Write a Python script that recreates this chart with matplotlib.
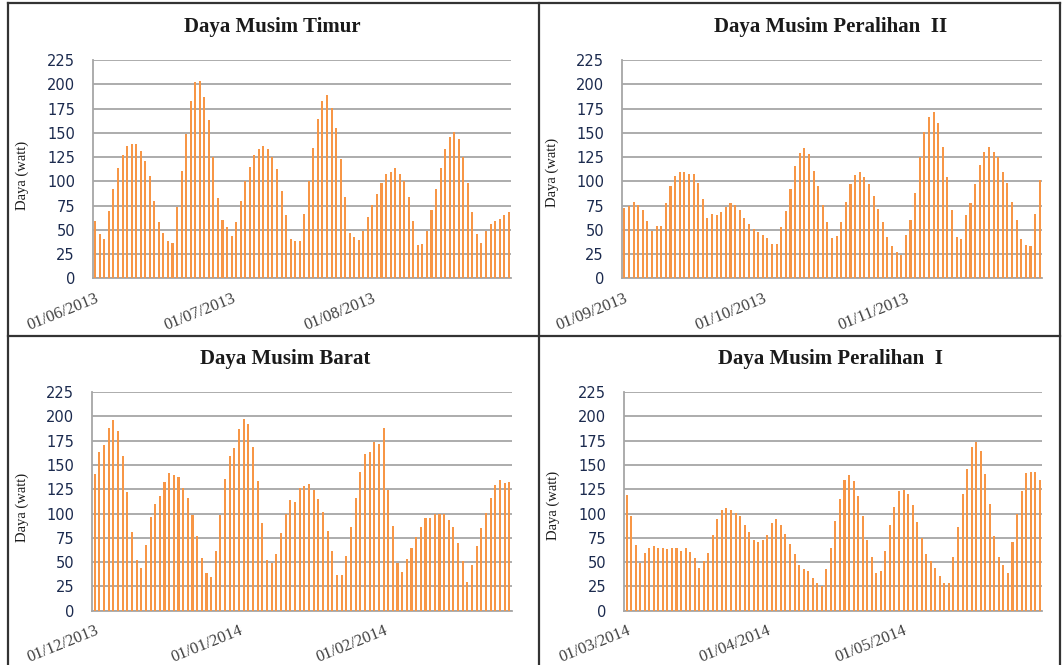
import matplotlib
matplotlib.use("Agg")
import matplotlib.pyplot as plt
from matplotlib.lines import Line2D
from matplotlib.transforms import ScaledTranslation
import numpy as np

# ---------------- data ----------------
timur = [59, 46, 41, 69, 92, 114, 127, 136, 138, 138, 131, 121, 105, 80, 58, 47, 38, 36, 74, 111,
         149, 183, 202, 203, 187, 163, 125, 83, 60, 53, 44, 58, 80, 100, 115, 127, 133, 136, 133, 125,
         113, 90, 65, 41, 38, 38, 66, 100, 134, 164, 183, 189, 176, 155, 123, 84, 47, 43, 39, 49,
         63, 76, 87, 98, 107, 110, 114, 108, 100, 84, 59, 34, 35, 49, 70, 92, 114, 133, 146, 151,
         144, 125, 98, 68, 46, 36, 49, 56, 59, 61, 65, 68]
peralihan2 = [72, 75, 79, 76, 70, 59, 49, 54, 54, 78, 95, 105, 110, 110, 108, 107, 98, 82, 62, 66,
              65, 68, 74, 78, 76, 70, 62, 56, 51, 48, 45, 42, 35, 35, 53, 69, 92, 116, 129, 134,
              128, 111, 95, 76, 58, 42, 44, 58, 79, 97, 106, 110, 104, 97, 85, 71, 58, 43, 33, 27,
              24, 45, 60, 88, 125, 151, 166, 171, 160, 135, 104, 70, 43, 40, 65, 78, 97, 117, 130, 135,
              130, 125, 110, 98, 79, 60, 40, 34, 33, 66, 101]
barat = [141, 163, 170, 188, 196, 185, 159, 122, 81, 52, 44, 68, 96, 110, 118, 132, 142, 140, 138, 126,
         116, 98, 77, 54, 39, 35, 61, 98, 136, 159, 167, 187, 197, 192, 168, 133, 90, 52, 49, 58,
         80, 100, 114, 112, 126, 128, 130, 124, 115, 102, 82, 61, 37, 37, 56, 86, 116, 143, 161, 163,
         174, 171, 188, 124, 87, 49, 40, 53, 64, 76, 86, 95, 95, 100, 100, 100, 93, 86, 70, 51,
         30, 47, 67, 85, 101, 116, 129, 134, 131, 132]
peralihan1 = [119, 97, 68, 49, 59, 64, 67, 65, 64, 63, 64, 65, 61, 64, 60, 54, 44, 51, 59, 78,
              94, 104, 106, 104, 101, 97, 88, 81, 73, 71, 73, 78, 90, 94, 88, 79, 69, 58, 47, 43,
              41, 34, 28, 25, 43, 64, 92, 115, 134, 140, 133, 118, 97, 73, 55, 39, 41, 61, 88, 107,
              123, 124, 120, 109, 91, 75, 58, 51, 44, 36, 28, 28, 55, 86, 120, 146, 168, 174, 164, 141,
              110, 77, 55, 47, 39, 71, 100, 123, 142, 143, 143, 134]

titles = ["Daya Musim Timur", "Daya Musim Peralihan  II", "Daya Musim Barat", "Daya Musim Peralihan  I"]
series = [timur, peralihan2, barat, peralihan1]
tick_idx = [[0, 30, 61], [0, 30, 61], [0, 31, 62], [0, 31, 61]]
tick_lbl = [["01/06/2013", "01/07/2013", "01/08/2013"],
            ["01/09/2013", "01/10/2013", "01/11/2013"],
            ["01/12/2013", "01/01/2014", "01/02/2014"],
            ["01/03/2014", "01/04/2014", "01/05/2014"]]
y_ticks = [0, 25, 50, 75, 100, 125, 150, 175, 200, 225]
ylabel = "Daya (watt)"

# ---------------- layout (pixels) ----------------
W, H = 1063, 665
fig = plt.figure(figsize=(W / 100, H / 100), dpi=100)
fig.patch.set_facecolor("white")

def fx(x):
    return x / W

def fy(y):
    return 1 - y / H

# (left, right, top, bottom) of each plot area, title center, ylabel x
boxes = [(93, 511, 60, 278.3), (622, 1042, 60, 278.3), (92.3, 511.7, 392, 610.7), (624.3, 1042, 392, 610.7)]
title_pos = [(272, 27), (831, 27), (285, 359), (830, 359)]
ylab_pos = [(22, 175), (552, 172), (22, 507), (553, 505)]

serif = ["Liberation Serif", "DejaVu Serif"]
bar_color = "#F79646"
grid_color = "#A6A6A6"

for k in range(4):
    l, r, t, b = boxes[k]
    ax = fig.add_axes([fx(l), fy(b), fx(r) - fx(l), fy(t) - fy(b)])
    vals = series[k]
    n = len(vals)
    ax.bar(np.arange(n), vals, width=0.45, color=bar_color, edgecolor="none", zorder=3)
    ax.set_xlim(-0.5, n - 0.5)
    ax.set_ylim(0, 225)
    ax.set_yticks(y_ticks)
    ax.set_yticklabels([str(v) for v in y_ticks], fontsize=10.5, color="#1B2A4E",
                       family=["DejaVu Sans"])
    ax.tick_params(axis="y", length=0, pad=13)
    ax.set_xticks([])
    ax.yaxis.grid(True, color=grid_color, linewidth=1.3, zorder=0)
    ax.set_axisbelow(True)
    for s in ["top", "right"]:
        ax.spines[s].set_visible(False)
    ax.spines["left"].set_color(grid_color)
    ax.spines["bottom"].set_color(grid_color)
    ax.spines["left"].set_linewidth(1.3)
    ax.spines["bottom"].set_linewidth(1.3)
    ax.patch.set_alpha(0)

    # date labels
    trans = ax.get_xaxis_transform() + ScaledTranslation(0 / 100, -12 / 100, fig.dpi_scale_trans)
    for i, lab in zip(tick_idx[k], tick_lbl[k]):
        ax.text(i, 0, lab, transform=trans, rotation=22, rotation_mode="anchor",
                ha="right", va="top", fontsize=12, color="#404040", family=serif)

    tx, ty = title_pos[k]
    fig.text(fx(tx), fy(ty), titles[k], ha="center", va="center", fontsize=15,
             fontweight="bold", color="#1a1a1a", family=serif)
    lx, ly = ylab_pos[k]
    fig.text(fx(lx), fy(ly), ylabel, ha="center", va="center", rotation=90,
             fontsize=10.5, color="#1a1a1a", family=serif)

# frame lines
lc = "#333333"
lw = 1.6
fig.add_artist(Line2D([fx(7.5), fx(7.5)], [fy(3), fy(665)], color=lc, lw=lw))
fig.add_artist(Line2D([fx(1060), fx(1060)], [fy(3), fy(665)], color=lc, lw=lw))
fig.add_artist(Line2D([fx(7.5), fx(1060)], [fy(3), fy(3)], color=lc, lw=lw))
fig.add_artist(Line2D([fx(538.5), fx(538.5)], [fy(3), fy(665)], color=lc, lw=lw))
fig.add_artist(Line2D([fx(7.5), fx(1060)], [fy(336), fy(336)], color=lc, lw=lw))

fig.savefig("out.png", dpi=100, facecolor="white")
